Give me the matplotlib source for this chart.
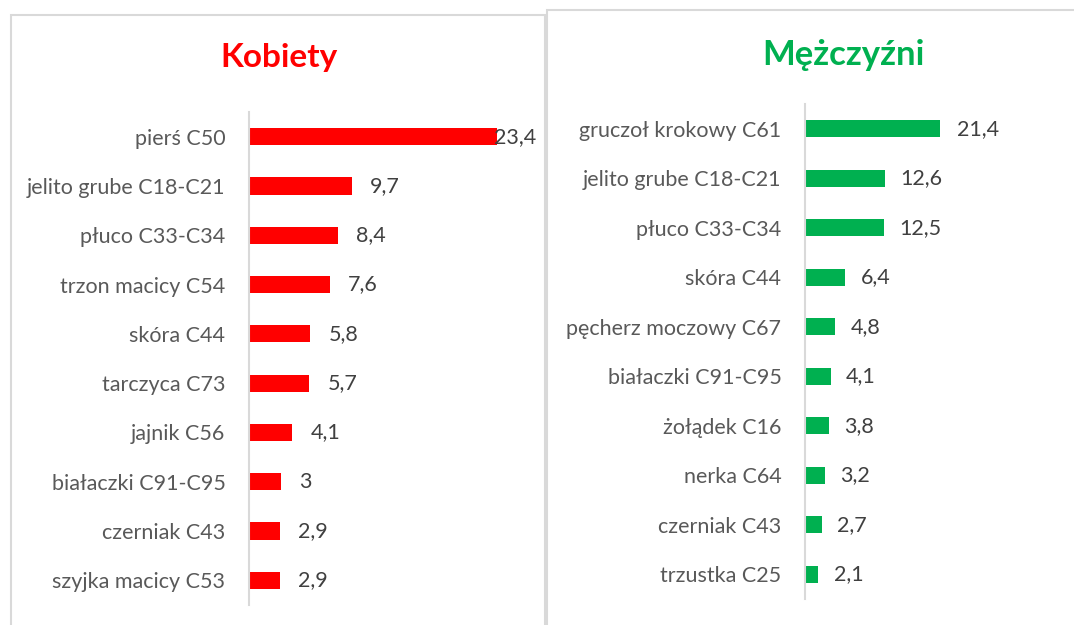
import matplotlib
matplotlib.use("Agg")
import matplotlib.pyplot as plt
from matplotlib.patches import Rectangle

plt.rcParams['font.family'] = ['Lato', 'DejaVu Sans']

women_labels = ["pierś C50", "jelito grube C18-C21", "płuco C33-C34", "trzon macicy C54",
                "skóra C44", "tarczyca C73", "jajnik C56", "białaczki C91-C95",
                "czerniak C43", "szyjka macicy C53"]
women_values = [23.4, 9.7, 8.4, 7.6, 5.8, 5.7, 4.1, 3, 2.9, 2.9]

men_labels = ["gruczoł krokowy C61", "jelito grube C18-C21", "płuco C33-C34", "skóra C44",
              "pęcherz moczowy C67", "białaczki C91-C95", "żołądek C16", "nerka C64",
              "czerniak C43", "trzustka C25"]
men_values = [21.4, 12.6, 12.5, 6.4, 4.8, 4.1, 3.8, 3.2, 2.7, 2.1]

W, H = 1074, 625
fig = plt.figure(figsize=(W / 100, H / 100), dpi=100)
fig.patch.set_facecolor("white")

border = "#D9D9D9"
# panel frames
fig.add_artist(Rectangle((11 / W, -0.1), (545 - 11) / W, 1.1 - 15 / H,
                         transform=fig.transFigure, fill=False, edgecolor=border, lw=1.5))
fig.add_artist(Rectangle((547 / W, -0.1), (W + 20 - 547) / W, 1.1 - 10 / H,
                         transform=fig.transFigure, fill=False, edgecolor=border, lw=1.5))


def panel(left_px, top_px, bottom_px, width_px, xmax, labels, values, color, title, title_xy,
          first_off, off, tsize):
    ax = fig.add_axes([left_px / W, 1 - bottom_px / H, width_px / W, (bottom_px - top_px) / H])
    y = list(range(len(values)))
    ax.barh(y, values, height=0.35, color=color, zorder=2)
    ax.set_ylim(len(values) - 0.5, -0.5)
    ax.set_xlim(0, xmax)
    ax.set_yticks(y)
    ax.set_yticklabels(labels, fontsize=15.5, color="#595959")
    ax.tick_params(axis="y", length=0, pad=17)
    ax.set_xticks([])
    for s in ["top", "right", "bottom"]:
        ax.spines[s].set_visible(False)
    ax.spines["left"].set_color(border)
    ax.spines["left"].set_linewidth(1.5)
    ax.set_facecolor("none")
    for i, v in enumerate(values):
        o = first_off if i == 0 else off
        ax.annotate(f"{v:g}".replace(".", ","), (v, i), xytext=(o, 0), textcoords="offset points",
                    va="center", ha="left", fontsize=15.5, color="#404040", zorder=3,
                    annotation_clip=False)
    fig.text(title_xy[0] / W, 1 - title_xy[1] / H, title, ha="center", va="center",
             fontsize=tsize, fontweight="bold", color=color)
    return ax


panel(249, 112, 605, 265, 25, women_labels, women_values, "#FF0000", "Kobiety", (279, 58),
      -2, 13, 24)
panel(805, 104, 599, 158, 25, men_labels, men_values, "#00B050", "Mężczyźni", (843, 55),
      12, 11, 25)

fig.savefig("out.png", dpi=100, facecolor="white")
